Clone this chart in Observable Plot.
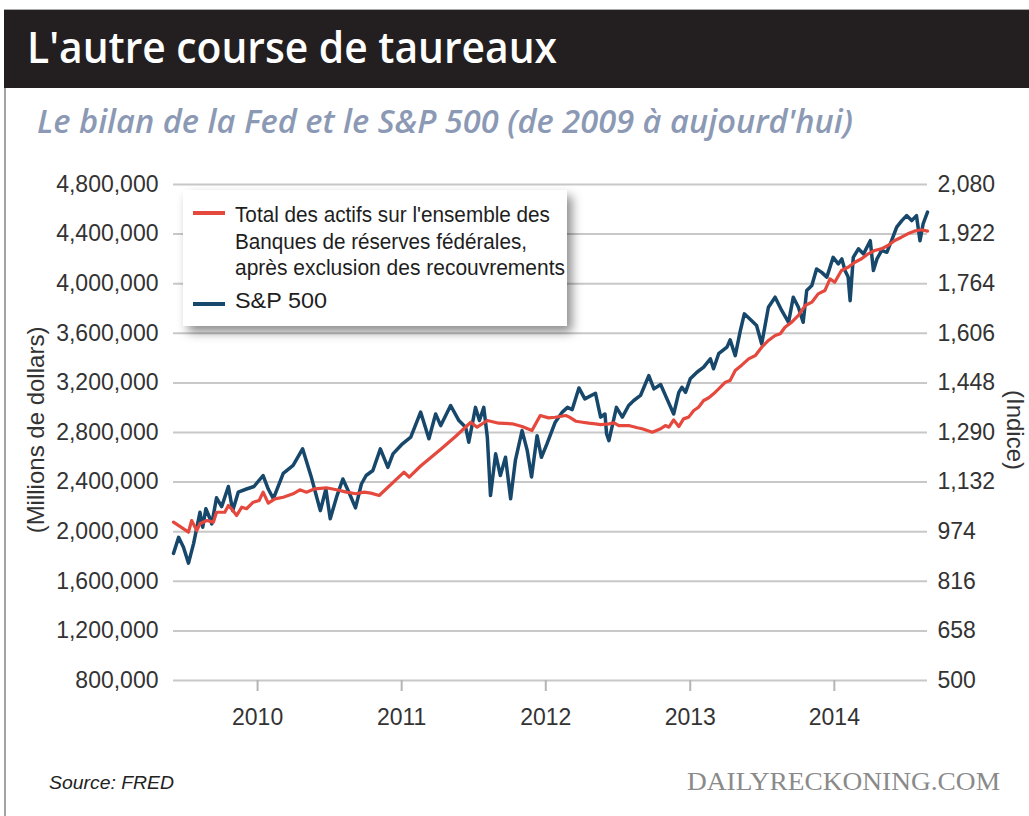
<!DOCTYPE html>
<html>
<head>
<meta charset="utf-8">
<script src="https://cdn.jsdelivr.net/npm/d3@7"></script>
<script src="https://cdn.jsdelivr.net/npm/@observablehq/plot@0.6"></script>
<style>
  html, body { margin: 0; padding: 0; background: #fff; }
  body { width: 1029px; height: 816px; position: relative; overflow: hidden; font-family: "Liberation Sans", Arial, sans-serif; }
  #frame { position: absolute; left: 4px; top: 88px; width: 1025px; height: 740px; border-left: 2px solid #a3a3a3; }
  #titlebar { position: absolute; left: 4px; top: 9px; width: 1025px; height: 79px; background: #231f20; border-top: 1px solid #aaa; box-sizing: border-box; }
  #chart { position: absolute; left: 0; top: 160px; }
  #legendbox { position: absolute; left: 183px; top: 190px; width: 384px; height: 136px; background: #fff; box-shadow: 5px 6px 10px rgba(0,0,0,0.45); }
  #overlay { position: absolute; left: 0; top: 0; }
</style>
</head>
<body>
<div id="titlebar"></div>
<div id="frame"></div>
<div id="chart"></div>
<div id="legendbox"></div>
<svg id="overlay" width="1029" height="816"></svg>
<script>
// ---- Data ----
const titleText = "L'autre course de taureaux";
const subtitleText = "Le bilan de la Fed et le S&P 500 (de 2009 à aujourd'hui)";
const legendLabels = ["Total des actifs sur l'ensemble des", "Banques de réserves fédérales,", "après exclusion des recouvrements", "S&P 500"];
const leftAxisLabel = "(Millions de dollars)";
const rightAxisLabel = "(Indice)";
const sourceText = "Source: FRED";
const brandText = "DAILYRECKONING.COM";

const leftTicks = [800000, 1200000, 1600000, 2000000, 2400000, 2800000, 3200000, 3600000, 4000000, 4400000, 4800000];
const rightTicks = [500, 658, 816, 974, 1132, 1290, 1448, 1606, 1764, 1922, 2080];
const years = [2010, 2011, 2012, 2013, 2014];

// Fed total assets (millions of dollars)
const fedDates = [
  "2009-06-02","2009-07-10","2009-07-18","2009-07-31","2009-08-08","2009-08-25","2009-09-11","2009-09-19","2009-10-10","2009-10-19",
  "2009-10-27","2009-11-09","2009-11-22","2009-12-04","2009-12-21","2010-01-05","2010-01-15","2010-01-28","2010-02-14","2010-03-07",
  "2010-04-01","2010-04-18","2010-05-05","2010-05-26","2010-06-24","2010-07-20","2010-08-14","2010-09-07","2010-09-28","2010-10-15",
  "2010-11-05","2011-01-07","2011-01-20","2011-02-18","2011-04-10","2011-05-18","2011-06-25","2011-07-11","2011-08-06","2011-09-04",
  "2011-10-08","2011-11-02","2011-11-27","2011-12-18","2012-01-08","2012-01-25","2012-02-21","2012-03-01","2012-03-17","2012-04-03",
  "2012-04-19","2012-05-06","2012-05-19","2012-06-09","2012-06-22","2012-07-04","2012-07-29","2012-08-20","2012-09-01","2012-09-27",
  "2012-10-18","2012-10-30","2012-11-08","2012-11-20","2012-12-03","2012-12-15","2012-12-28","2013-01-10","2013-01-22","2013-02-04",
  "2013-02-17","2013-03-01","2013-03-14","2013-03-31","2013-04-12","2013-04-25","2013-05-12","2013-05-29","2013-06-15","2013-07-01",
  "2013-07-18","2013-08-04","2013-08-17","2013-08-29","2013-09-15","2013-10-02","2013-10-19","2013-11-05","2013-11-21","2013-12-08",
  "2013-12-21","2014-01-02","2014-01-19","2014-02-05","2014-02-22","2014-03-11","2014-03-28","2014-04-13","2014-04-30","2014-05-17",
  "2014-06-03","2014-06-20","2014-07-06","2014-07-23","2014-08-09","2014-08-25"
];
const fedValues = [
  2077000,1996000,2090000,2010000,2064000,2090000,2077000,2157000,2157000,2211000,
  2185000,2131000,2198000,2185000,2238000,2252000,2319000,2230000,2265000,2278000,
  2306000,2338000,2319000,2346000,2354000,2338000,2319000,2306000,2319000,2311000,
  2292000,2480000,2440000,2530000,2665000,2770000,2883000,2843000,2897000,2875000,
  2870000,2848000,2816000,2937000,2918000,2923000,2937000,2924000,2891000,2883000,
  2875000,2870000,2864000,2870000,2878000,2856000,2856000,2838000,2830000,2802000,
  2830000,2856000,2843000,2902000,2848000,2910000,2924000,2977000,3004000,3058000,
  3080000,3112000,3152000,3206000,3219000,3300000,3345000,3394000,3421000,3488000,
  3542000,3582000,3596000,3649000,3690000,3744000,3824000,3851000,3918000,3945000,
  4039000,4012000,4106000,4133000,4173000,4201000,4241000,4268000,4281000,4308000,
  4348000,4375000,4402000,4424000,4435000,4424000
];

// S&P 500 index
const spDates = [
  "2009-06-02","2009-06-15","2009-06-27","2009-07-10","2009-07-23","2009-08-08","2009-08-15","2009-08-23","2009-09-01","2009-09-07",
  "2009-09-19","2009-10-02","2009-10-19","2009-10-30","2009-11-13","2009-12-04","2009-12-23","2010-01-15","2010-01-28","2010-02-10",
  "2010-03-07","2010-04-01","2010-04-25","2010-05-17","2010-06-09","2010-06-23","2010-07-04","2010-07-20","2010-08-05","2010-08-22",
  "2010-09-06","2010-09-21","2010-10-03",
  "2010-10-20","2010-11-08","2010-11-27","2010-12-10","2011-01-03","2011-01-24","2011-02-18","2011-03-11","2011-03-28","2011-04-10",
  "2011-05-05","2011-05-26","2011-06-12","2011-06-20","2011-07-07","2011-07-17","2011-07-28","2011-08-06","2011-08-14","2011-08-27",
  "2011-09-08","2011-09-21","2011-10-04","2011-10-16","2011-11-02","2011-11-15","2011-11-26","2011-12-10","2011-12-21","2012-01-04",
  "2012-01-25",
  "2012-02-12","2012-02-25","2012-03-08","2012-03-25","2012-04-09","2012-05-06","2012-05-19","2012-05-30","2012-06-03","2012-06-09",
  "2012-06-28","2012-07-13","2012-07-29","2012-08-11","2012-08-28","2012-09-18","2012-10-01","2012-10-18","2012-11-03","2012-11-20",
  "2012-12-03","2012-12-11","2012-12-20","2013-01-01","2013-01-18","2013-02-04","2013-02-21","2013-03-01","2013-03-14","2013-04-04",
  "2013-04-12","2013-04-25","2013-05-08","2013-05-18",
  "2013-06-05","2013-06-18","2013-07-01","2013-07-18","2013-08-04","2013-08-21","2013-09-07","2013-09-19","2013-10-02","2013-10-14",
  "2013-10-23","2013-11-05","2013-11-17","2013-11-30","2013-12-13","2013-12-29","2014-01-11","2014-01-20","2014-01-28","2014-02-05",
  "2014-02-10","2014-02-18","2014-03-03","2014-03-16","2014-04-02","2014-04-10","2014-04-19","2014-05-01","2014-05-14","2014-05-26",
  "2014-06-08","2014-06-21","2014-07-03","2014-07-16","2014-07-28","2014-08-06","2014-08-14","2014-08-25"
];
const spValues = [
  905,956,925,874,937,1036,988,1047,1020,999,
  1082,1054,1118,1041,1100,1110,1118,1153,1110,1079,
  1160,1185,1238,1148,1041,1110,1015,1084,1142,1095,
  1050,1126,1153,
  1169,1238,1179,1222,1254,1275,1355,1270,1349,1312,
  1376,1328,1307,1259,1370,1328,1370,1275,1089,1222,
  1153,1211,1079,1201,1296,1233,1148,1280,1211,1254,
  1323,
  1355,1370,1363,1432,1397,1415,1339,1349,1286,1264,
  1370,1339,1376,1392,1408,1471,1429,1443,1397,1349,
  1418,1434,1418,1461,1482,1498,1525,1493,1541,1562,
  1585,1535,1615,1668,
  1647,1631,1572,1689,1721,1678,1641,1721,1689,1641,
  1742,1758,1811,1800,1785,1848,1827,1843,1806,1785,
  1710,1848,1875,1859,1901,1806,1843,1870,1864,1901,
  1944,1965,1981,1965,1981,1901,1955,1992
];

// ---- Build tables ----
const lMin = leftTicks[0], lMax = leftTicks[leftTicks.length - 1];
const rMin = rightTicks[0], rMax = rightTicks[rightTicks.length - 1];
const spToLeft = v => lMin + (v - rMin) * (lMax - lMin) / (rMax - rMin);
const fed = fedDates.map((d, i) => ({date: new Date(d), v: fedValues[i]}));
const sp = spDates.map((d, i) => ({date: new Date(d), v: spToLeft(spValues[i])}));
const yearTicks = years.map(y => new Date(Date.UTC(y, 0, 1)));
const fmt = d3.format(",");

const RED = "#e5493e", BLUE = "#17486b", GRID = "#c8c8c8";

const plot = Plot.plot({
  width: 1029, height: 600,
  marginLeft: 173, marginRight: 102, marginTop: 24, marginBottom: 80,
  style: {fontFamily: "'Liberation Sans', Arial, sans-serif", fontSize: "23px", color: "#333", background: "transparent", overflow: "visible"},
  x: {type: "utc", domain: [new Date(fedDates[0]), new Date(fedDates[fedDates.length - 1])]},
  y: {domain: [lMin, lMax]},
  marks: [
    Plot.gridY(leftTicks, {stroke: GRID, strokeOpacity: 1, strokeWidth: 2}),
    Plot.axisY(leftTicks, {anchor: "left", tickSize: 0, tickPadding: 15, tickFormat: fmt, label: null, fontSize: 23}),
    Plot.axisY(leftTicks, {anchor: "right", tickSize: 0, tickPadding: 10, tickFormat: d => fmt(rightTicks[leftTicks.indexOf(d)]), label: null, fontSize: 23}),
    Plot.axisX(yearTicks, {tickSize: 11, tickPadding: 17, tickFormat: d => String(d.getUTCFullYear()), stroke: "#b5b5b5", strokeWidth: 2, label: null, fontSize: 23}),
    Plot.line(sp, {x: "date", y: "v", stroke: BLUE, strokeWidth: 3.5}),
    Plot.line(fed, {x: "date", y: "v", stroke: RED, strokeWidth: 3.2})
  ]
});
document.getElementById("chart").appendChild(plot);

// ---- Overlay texts ----
const svg = d3.select("#overlay");
function txt(s, x, y, opts) {
  const t = svg.append("text").attr("x", x).attr("y", y).text(s);
  for (const k in opts) t.attr(k, opts[k]);
  return t;
}
txt(titleText, 27, 63, {"fill": "#fff", "font-family": "'Open Sans', sans-serif", "font-weight": 600, "font-size": 43, "textLength": 530, "lengthAdjust": "spacingAndGlyphs"});
txt(subtitleText, 37, 133, {"fill": "#8b99b4", "font-family": "'Open Sans', sans-serif", "font-style": "italic", "font-weight": 600, "font-size": 33, "textLength": 816, "lengthAdjust": "spacingAndGlyphs"});

// legend
svg.append("line").attr("x1", 193).attr("x2", 225).attr("y1", 213).attr("y2", 213).attr("stroke", RED).attr("stroke-width", 4);
svg.append("line").attr("x1", 193).attr("x2", 225).attr("y1", 304).attr("y2", 304).attr("stroke", BLUE).attr("stroke-width", 4);
const lf = {"fill": "#1e1e1e", "font-family": "'Liberation Sans Narrow', 'Liberation Sans', sans-serif", "font-size": 22, "lengthAdjust": "spacingAndGlyphs"};
txt(legendLabels[0], 235, 221.5, {...lf, textLength: 315});
txt(legendLabels[1], 235, 248.5, {...lf, textLength: 292});
txt(legendLabels[2], 235, 275, {...lf, textLength: 330});
txt(legendLabels[3], 235, 308, {...lf, textLength: 92});

// axis titles
txt(leftAxisLabel, 0, 0, {"fill": "#333", "font-size": 24, "text-anchor": "middle", "dominant-baseline": "central", "transform": "translate(35,430) rotate(-90)"});
txt(rightAxisLabel, 0, 0, {"fill": "#333", "font-size": 24, "text-anchor": "middle", "dominant-baseline": "central", "transform": "translate(1015,430) rotate(90)"});

// footer
txt(sourceText, 49, 789, {"fill": "#222", "font-style": "italic", "font-size": 19, "textLength": 125, "lengthAdjust": "spacingAndGlyphs"});
txt(brandText, 687, 790, {"fill": "#8a8a8a", "font-family": "'Liberation Serif', serif", "font-size": 26, "textLength": 313, "lengthAdjust": "spacingAndGlyphs"});
</script>
</body>
</html>
